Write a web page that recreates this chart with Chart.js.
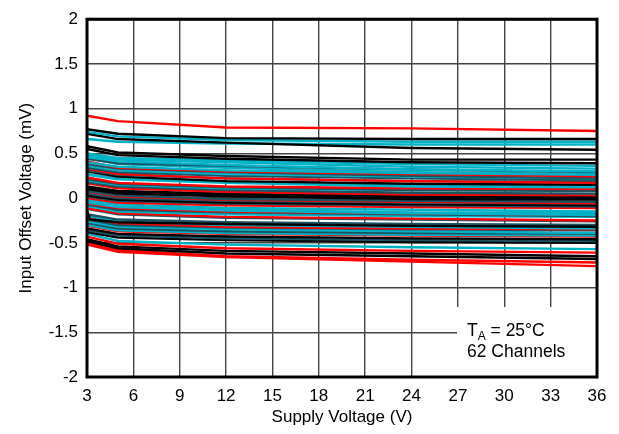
<!DOCTYPE html>
<html>
<head>
<meta charset="utf-8">
<script src="https://cdn.jsdelivr.net/npm/chart.js@4.4.1/dist/chart.umd.min.js"></script>
<style>
  html, body { margin: 0; padding: 0; background: #fff; }
  #wrap { width: 619px; height: 434px; }
</style>
</head>
<body>
<div id="wrap"><canvas id="c" width="619" height="434"></canvas></div>
<script>
// supply voltage sample points (V)
const VOLTS = [3, 5, 12, 24, 36];
// the one channel with a step right at 3 V
const HOOK_VOLTS = [3, 3.2, 5, 12, 24, 36];
const HOOK_OFFSET = [-0.14, -0.24, -0.27, -0.29, -0.31, -0.32];
const HOOK_COLOR = 'K';

// input offset voltage (mV) per channel, at VOLTS
const OFFSETS = [
  [0.92, 0.86, 0.79, 0.78, 0.75],
  [0.77, 0.72, 0.67, 0.66, 0.66],
  [0.74, 0.69, 0.65, 0.63, 0.63],
  [0.72, 0.66, 0.62, 0.56, 0.54],
  [0.66, 0.63, 0.61, 0.60, 0.60],
  [0.58, 0.51, 0.47, 0.43, 0.43],
  [0.55, 0.48, 0.44, 0.40, 0.39],
  [0.50, 0.45, 0.42, 0.38, 0.36],
  [0.48, 0.43, 0.40, 0.35, 0.33],
  [0.46, 0.41, 0.37, 0.32, 0.30],
  [0.44, 0.39, 0.36, 0.32, 0.29],
  [0.45, 0.38, 0.34, 0.29, 0.27],
  [0.40, 0.35, 0.31, 0.28, 0.26],
  [0.41, 0.34, 0.30, 0.27, 0.245],
  [0.38, 0.33, 0.29, 0.25, 0.22],
  [0.36, 0.31, 0.27, 0.24, 0.22],
  [0.34, 0.29, 0.25, 0.22, 0.20],
  [0.33, 0.27, 0.22, 0.19, 0.17],
  [0.31, 0.26, 0.22, 0.19, 0.18],
  [0.30, 0.24, 0.19, 0.16, 0.15],
  [0.27, 0.22, 0.18, 0.15, 0.13],
  [0.26, 0.21, 0.17, 0.13, 0.12],
  [0.23, 0.17, 0.13, 0.11, 0.10],
  [0.21, 0.16, 0.12, 0.09, 0.08],
  [0.20, 0.15, 0.11, 0.09, 0.09],
  [0.18, 0.13, 0.09, 0.06, 0.05],
  [0.165, 0.11, 0.07, 0.04, 0.03],
  [0.13, 0.08, 0.05, 0.02, 0.015],
  [0.115, 0.07, 0.03, 0.00, -0.005],
  [0.10, 0.05, 0.02, -0.01, -0.017],
  [0.08, 0.03, -0.01, -0.03, -0.04],
  [0.072, 0.02, -0.02, -0.04, -0.058],
  [0.05, 0.00, -0.03, -0.05, -0.06],
  [0.03, -0.02, -0.05, -0.07, -0.08],
  [0.017, -0.03, -0.06, -0.08, -0.094],
  [0.00, -0.05, -0.08, -0.10, -0.11],
  [-0.02, -0.07, -0.11, -0.13, -0.15],
  [-0.039, -0.09, -0.13, -0.16, -0.17],
  [-0.05, -0.10, -0.14, -0.17, -0.19],
  [-0.058, -0.11, -0.15, -0.17, -0.19],
  [-0.072, -0.13, -0.16, -0.18, -0.20],
  [-0.09, -0.15, -0.18, -0.20, -0.21],
  [-0.113, -0.17, -0.21, -0.23, -0.25],
  [-0.12, -0.18, -0.22, -0.24, -0.26],
  [-0.18, -0.24, -0.27, -0.29, -0.30],
  [-0.20, -0.26, -0.30, -0.32, -0.34],
  [-0.22, -0.28, -0.32, -0.34, -0.35],
  [-0.24, -0.30, -0.33, -0.35, -0.36],
  [-0.26, -0.32, -0.35, -0.37, -0.39],
  [-0.28, -0.34, -0.37, -0.39, -0.40],
  [-0.30, -0.36, -0.39, -0.41, -0.42],
  [-0.31, -0.37, -0.40, -0.42, -0.43],
  [-0.34, -0.40, -0.43, -0.45, -0.46],
  [-0.36, -0.42, -0.45, -0.47, -0.48],
  [-0.38, -0.44, -0.47, -0.49, -0.50],
  [-0.40, -0.48, -0.52, -0.55, -0.57],
  [-0.43, -0.51, -0.56, -0.59, -0.61],
  [-0.46, -0.54, -0.59, -0.62, -0.65],
  [-0.48, -0.56, -0.62, -0.65, -0.68],
  [-0.50, -0.58, -0.65, -0.69, -0.72],
  [-0.52, -0.60, -0.66, -0.71, -0.76]
];
// colour code per channel: R red, K black, C cyan, T dark teal
const CH_COLOR = [
  'R', 'K', 'C', 'K', 'C', 'K', 'K', 'C', 'C', 'C',
  'T', 'C', 'C', 'R', 'T', 'C', 'T', 'R', 'T', 'K',
  'C', 'C', 'R', 'T', 'C', 'T', 'R', 'K', 'K', 'K',
  'T', 'R', 'T', 'K', 'T', 'R', 'C', 'C', 'C', 'R',
  'T', 'C', 'R', 'T', 'T', 'C', 'R', 'T', 'C', 'T',
  'C', 'R', 'K', 'T', 'K', 'C', 'R', 'K', 'K', 'R',
  'R'
];

const X_TICKS = [3, 6, 9, 12, 15, 18, 21, 24, 27, 30, 33, 36];

const PALETTE = { R: '#ff0000', K: '#000000', C: '#00b2c6', T: '#1b5363' };
const FONT = "'Liberation Sans', Arial, Helvetica, sans-serif";

function lineSet(xs, ys, code) {
  return {
    data: xs.map((x, i) => ({ x: x, y: ys[i] })),
    borderColor: PALETTE[code],
    borderWidth: 2.4,
    pointRadius: 0,
    tension: 0,
    fill: false
  };
}

const datasets = OFFSETS.map((row, i) => lineSet(VOLTS, row, CH_COLOR[i]));
datasets.splice(44, 0, lineSet(HOOK_VOLTS, HOOK_OFFSET, HOOK_COLOR));

// white note box in lower right + plot frame
const notePlugin = {
  id: 'note',
  afterDatasetsDraw(chart) {
    const { ctx, chartArea: a } = chart;
    ctx.save();
    ctx.fillStyle = '#fff';
    ctx.fillRect(457, 307, a.right - 457, a.bottom - 307);
    ctx.fillStyle = '#000';
    ctx.textBaseline = 'alphabetic';
    ctx.font = '17.5px ' + FONT;
    let x = 467;
    ctx.fillText('T', x, 336);
    x += ctx.measureText('T').width;
    ctx.font = '12px ' + FONT;
    ctx.fillText('A', x, 340);
    x += ctx.measureText('A').width;
    ctx.font = '17.5px ' + FONT;
    ctx.fillText(' = 25°C', x, 336);
    ctx.fillText('62 Channels', 467, 357);
    ctx.restore();
  },
  afterDraw(chart) {
    const { ctx, chartArea: a } = chart;
    ctx.save();
    ctx.strokeStyle = '#000';
    ctx.lineWidth = 3;
    ctx.strokeRect(a.left, a.top, a.right - a.left, a.bottom - a.top);
    ctx.restore();
  }
};

new Chart(document.getElementById('c'), {
  type: 'line',
  data: { datasets: datasets },
  plugins: [notePlugin],
  options: {
    responsive: false,
    animation: false,
    events: [],
    layout: { padding: { top: 16, right: 22, left: 0, bottom: 0 } },
    plugins: { legend: { display: false }, tooltip: { enabled: false } },
    scales: {
      x: {
        type: 'linear',
        min: 3,
        max: 36,
        afterBuildTicks: s => { s.ticks = X_TICKS.map(v => ({ value: v })); },
        afterFit: s => { s.height = 57; },
        grid: { color: '#444', lineWidth: 1.4, drawTicks: false },
        border: { display: false },
        ticks: { color: '#000', padding: 9, font: { family: FONT, size: 17 }, maxRotation: 0 },
        title: { display: true, text: 'Supply Voltage (V)', color: '#000', font: { family: FONT, size: 17 }, padding: { top: 0, bottom: 6 } }
      },
      y: {
        min: -2,
        max: 2,
        afterFit: s => { s.width = 87; },
        grid: { color: '#444', lineWidth: 1.4, drawTicks: false },
        border: { display: false },
        ticks: { stepSize: 0.5, color: '#000', padding: 9, font: { family: FONT, size: 17 }, callback: v => String(v) },
        title: { display: true, text: 'Input Offset Voltage (mV)', color: '#000', font: { family: FONT, size: 17 }, padding: { top: 16, bottom: 0 } }
      }
    }
  }
});
</script>
</body>
</html>
